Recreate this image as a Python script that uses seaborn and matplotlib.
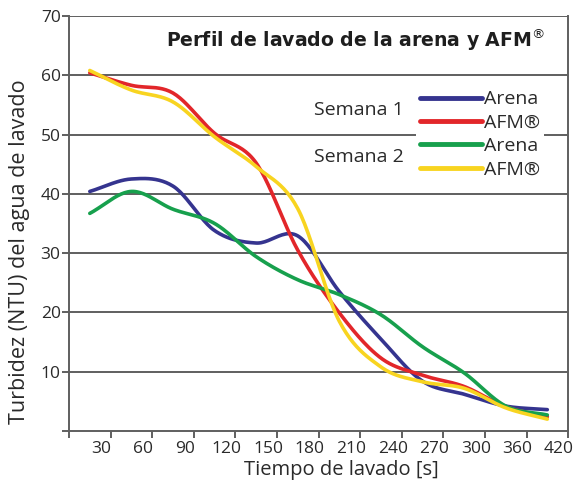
import numpy as np
import pandas as pd
import seaborn as sns
import matplotlib.pyplot as plt
from matplotlib.lines import Line2D
from matplotlib.transforms import ScaledTranslation

sns.set_theme(style="white")
plt.rcParams['font.family'] = ['Open Sans', 'DejaVu Sans']

# ---------- Data -------------------------------------------------- #
tick_labels = ["30", "60", "90", "120", "150", "180", "210",
               "240", "270", "300", "360", "420"]
# points sit midway between the category ticks
x_pos = np.arange(12) + 0.5

arena_s1 = [40.4, 42.5, 41.3, 33.8, 31.7, 32.9, 23.5, 15.5, 8.4, 6.2, 4.2, 3.6]
afm_s1   = [60.4, 58.3, 57.0, 50.2, 45.2, 30.5, 19.9, 12.3, 9.4, 7.5, 4.1, 2.4]
arena_s2 = [36.7, 40.4, 37.4, 35.0, 29.4, 25.5, 23.0, 19.6, 14.2, 9.8, 4.2, 2.7]
afm_s2   = [60.8, 57.5, 55.5, 49.6, 44.6, 37.5, 18.5, 10.8, 8.3, 7.2, 3.9, 2.0]

series = {"Arena S1": arena_s1, "AFM S1": afm_s1,
          "Arena S2": arena_s2, "AFM S2": afm_s2}
palette = {"Arena S1": "#35348f", "AFM S1": "#e2262a",
           "Arena S2": "#17a04d", "AFM S2": "#f8d420"}


def smooth(x, y, n=24):
    # Catmull-Rom style smoothing (like the spreadsheet "smoothed line")
    x = np.asarray(x, float); y = np.asarray(y, float)
    px = np.concatenate([[2*x[0]-x[1]], x, [2*x[-1]-x[-2]]])
    py = np.concatenate([[2*y[0]-y[1]], y, [2*y[-1]-y[-2]]])
    xs, ys = [], []
    t = np.linspace(0, 1, n, endpoint=False)
    for i in range(1, len(px)-2):
        for p, out in ((px, xs), (py, ys)):
            p0, p1, p2, p3 = p[i-1], p[i], p[i+1], p[i+2]
            out.append(0.5*((2*p1) + (-p0+p2)*t + (2*p0-5*p1+4*p2-p3)*t**2
                            + (-p0+3*p1-3*p2+p3)*t**3))
    xs.append([x[-1]]); ys.append([y[-1]])
    return np.concatenate(xs), np.concatenate(ys)


rows = []
for name, vals in series.items():
    sx, sy = smooth(x_pos, vals)
    rows.append(pd.DataFrame({"x": sx, "y": sy, "serie": name}))
long_df = pd.concat(rows, ignore_index=True)

# ---------- Plot ---------------------------------------------------- #
fig = plt.figure(figsize=(5.75, 4.83), dpi=100)
ax = fig.add_axes([0.12, 0.1077, 0.868, 0.8593])

grid_c = "#5f5f5f"
text_c = "#2a2a2a"
for v in range(10, 71, 10):
    ax.axhline(v, color=grid_c, lw=1.4, zorder=1)

sns.lineplot(data=long_df, x="x", y="y", hue="serie", palette=palette,
             sort=False, estimator=None, lw=2.6, legend=False, ax=ax, zorder=3)

ax.set_xlim(0, 12); ax.set_ylim(0, 70)
ax.set_xticks(np.arange(1, 13))
ax.set_xticklabels(tick_labels)
ax.set_xticks([0], minor=True)
ax.set_yticks(range(10, 71, 10))
ax.set_yticks([0], minor=True)
ax.tick_params(axis="both", which="both", direction="out", length=5,
               width=1.4, color=grid_c, labelsize=12.5, labelcolor=text_c)
ax.tick_params(axis="x", pad=2)
ax.tick_params(axis="y", pad=1)
ax.xaxis.set_ticks_position("bottom"); ax.yaxis.set_ticks_position("left")
# category labels sit a little left of their ticks in the original
shift = ScaledTranslation(-9/100, 0, fig.dpi_scale_trans)
for lbl in ax.get_xticklabels():
    lbl.set_transform(lbl.get_transform() + shift)

for side in ["left", "bottom", "right"]:
    ax.spines[side].set_color(grid_c); ax.spines[side].set_linewidth(1.4)
ax.spines["top"].set_visible(False)

ax.set_xlabel("Tiempo de lavado [s]", fontsize=14.5, color=text_c)
ax.xaxis.set_label_coords(0.545, -0.07)
ax.set_ylabel("Turbidez (NTU) del agua de lavado", fontsize=15.5,
              color=text_c)
ax.yaxis.set_label_coords(-0.078, 0.433)

ax.text(0.573, 0.942, "Perfil de lavado de la arena y AFM$^{®}$",
        transform=ax.transAxes, ha="center", va="center",
        fontsize=13.6, fontweight="bold", color="#1e1e1e",
        family=["DejaVu Sans"])

# legend with week labels
handles = [Line2D([0], [0], color=palette[k], lw=3.5) for k in series]
leg = ax.legend(handles, ["Arena", "AFM®", "Arena", "AFM®"],
                loc="upper left", bbox_to_anchor=(0.695, 0.83),
                frameon=True, facecolor="white", edgecolor="none",
                framealpha=1, fontsize=14, handlelength=3.2,
                handletextpad=0.1, labelspacing=0.28, borderpad=0.2,
                borderaxespad=0)
leg.set_zorder(2)
for txt in leg.get_texts():
    txt.set_color(text_c)
ax.text(0.67, 0.773, "Semana 1", transform=ax.transAxes, ha="right",
        va="center", fontsize=14, color=text_c)
ax.text(0.67, 0.66, "Semana 2", transform=ax.transAxes, ha="right",
        va="center", fontsize=14, color=text_c)

fig.savefig("out.png", dpi=100)
